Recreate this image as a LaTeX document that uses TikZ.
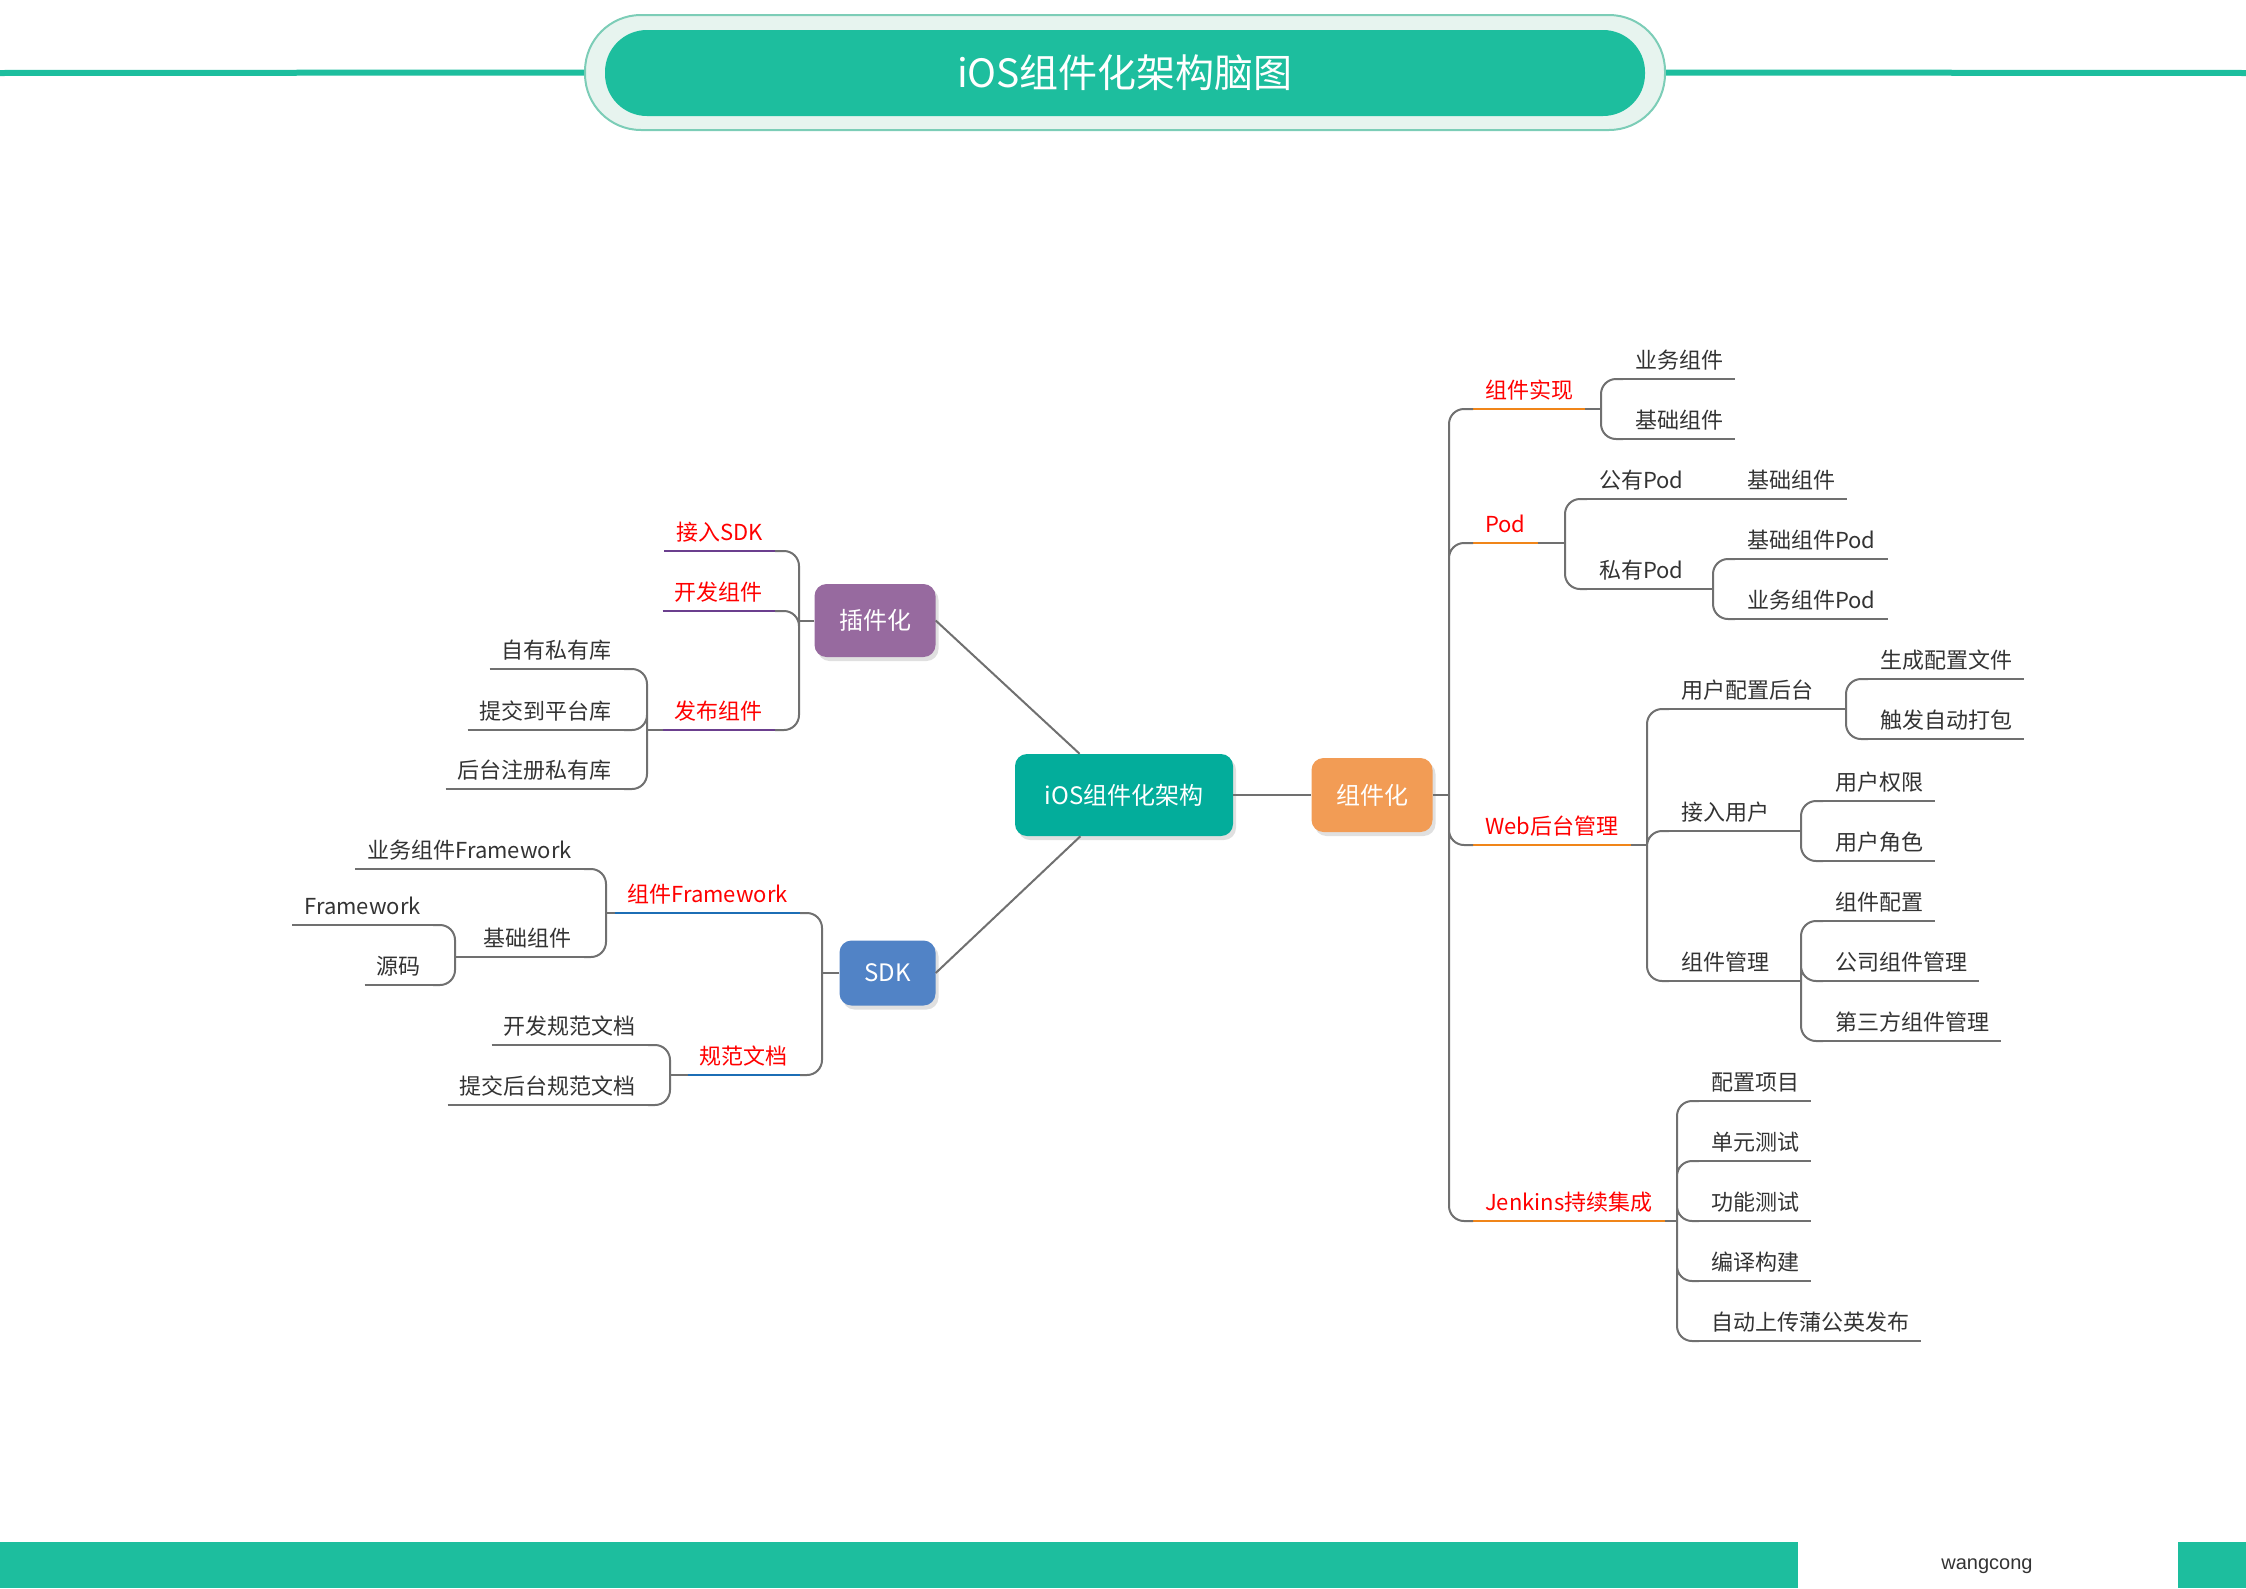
\documentclass[tikz,border=0pt]{standalone}
\usepackage{fontspec}
\setmainfont{Noto Sans CJK SC}
\newfontfamily\signfont{Liberation Sans}
\usepackage{tikz}
\usetikzlibrary{shadows}
\definecolor{mint}{HTML}{1DBE9E}
\definecolor{mintpale}{HTML}{E7F4EF}
\definecolor{mintline}{HTML}{7CCDB7}
\definecolor{rootteal}{HTML}{03AD9B}
\definecolor{plugpurple}{HTML}{976A9F}
\definecolor{sdkblue}{HTML}{5183C6}
\definecolor{comporange}{HTML}{F29C55}
\definecolor{ulpurple}{HTML}{6B3F8E}
\definecolor{ulblue}{HTML}{1C6EB5}
\definecolor{ulorange}{HTML}{F08519}
\definecolor{wiregray}{HTML}{707070}
\definecolor{ink}{HTML}{333333}
\newcommand{\leaffont}{\fontsize{22}{26}\selectfont}
\newcommand{\topicfont}{\fontsize{24}{28}\selectfont}

\begin{document}
\begin{tikzpicture}[x=1pt, y=-1pt,
    wire/.style={draw=wiregray, line width=2pt, rounded corners=15pt},
    lbl/.style={font=\leaffont, inner xsep=12pt, inner ysep=6pt, text height=17pt, text depth=4pt},
    leaf/.style={lbl, text=ink, append after command={(\tikzlastnode.south west) edge[draw=wiregray, line width=2pt] (\tikzlastnode.south east)}},
    branch/.style={lbl, text=red, append after command={(\tikzlastnode.south west) edge[draw=#1, line width=2.5pt] (\tikzlastnode.south east)}},
    topic/.style={fill=#1, rounded corners=12pt, text=white, font=\topicfont, drop shadow={shadow xshift=3pt, shadow yshift=-4pt, fill=black, opacity=0.12}}]
          \useasboundingbox (0,0) rectangle (2246,1588);

          % title bar
          \coordinate (L0) at (0,73);
          \coordinate (R0) at (2246,73);
          \node[fill=mintpale, draw=mintline, line width=2pt, rounded corners=56pt, minimum width=1080pt, minimum height=115pt] (TB) at (1125,72.5) {};
          \node[fill=mint, rounded corners=42pt, minimum width=1040pt, minimum height=86pt, text=white, font=\fontsize{39}{44}\selectfont] (T) at (1125,73) {iOS组件化架构脑图};
          \draw[mint, line width=6pt] (L0) -- (TB.west);
          \draw[mint, line width=6pt] (TB.east) -- (R0);

          % footer
          \fill[mint] (0,1542) rectangle (1798,1588);
          \fill[mint] (2178,1542) rectangle (2246,1588);
          \node[text=ink, font=\signfont\fontsize{20}{24}\selectfont] (W) at (1987,1566) {wangcong};

          % main topics
          \node[topic=rootteal, minimum width=218pt, minimum height=82pt] (R) at (1124,795) {iOS组件化架构};
          \node[topic=plugpurple, minimum width=121pt, minimum height=73pt] (CJ) at (875,620.5) {插件化};
          \node[topic=sdkblue, minimum width=96pt, minimum height=65pt] (SDK) at (887.5,973) {SDK};
          \node[topic=comporange, minimum width=121pt, minimum height=74pt] (ZJ) at (1372,795) {组件化};
          \draw[wire] (CJ.east) -- (R);
          \draw[wire] (SDK.east) -- (R);
          \draw[wire] (R) -- (ZJ);

          % 插件化
          \coordinate (jCJ) at (799,620.5);
          \node[branch=ulpurple, anchor=south east] (JR) at (775,551) {接入SDK};
          \node[branch=ulpurple, anchor=south east] (KF) at (775,611) {开发组件};
          \node[branch=ulpurple, anchor=south east] (FB) at (775,730) {发布组件};
          \draw[wire] (CJ.west) -- (jCJ);
          \draw[wire] (jCJ) |- (JR.south east) (jCJ) |- (KF.south east) (jCJ) |- (FB.south east);
          \coordinate (jFB) at (647,730);
          \node[leaf, anchor=south east] (FB1) at (624,669) {自有私有库};
          \node[leaf, anchor=south east] (FB2) at (624,730) {提交到平台库};
          \node[leaf, anchor=south east] (FB3) at (624,789) {后台注册私有库};
          \draw[wire] (FB.south west) -- (jFB);
          \draw[wire] (jFB) |- (FB1.south east) (jFB) |- (FB2.south east) (jFB) |- (FB3.south east);

          % SDK
          \coordinate (jSDK) at (822,973);
          \node[branch=ulblue, anchor=south east] (ZF) at (800,913) {组件Framework};
          \node[branch=ulblue, anchor=south east] (GF) at (800,1075) {规范文档};
          \draw[wire] (SDK.west) -- (jSDK);
          \draw[wire] (jSDK) |- (ZF.south east) (jSDK) |- (GF.south east);
          \coordinate (jZF) at (606,913);
          \node[leaf, anchor=south east] (ZF1) at (584,869) {业务组件Framework};
          \node[leaf, anchor=south east] (ZF2) at (584,957) {基础组件};
          \draw[wire] (ZF.south west) -- (jZF);
          \draw[wire] (jZF) |- (ZF1.south east) (jZF) |- (ZF2.south east);
          \coordinate (jZF2) at (455,957);
          \node[leaf, anchor=south east] (ZF21) at (433,925) {Framework};
          \node[leaf, anchor=south east] (ZF22) at (433,985) {源码};
          \draw[wire] (ZF2.south west) -- (jZF2);
          \draw[wire] (jZF2) |- (ZF21.south east) (jZF2) |- (ZF22.south east);
          \coordinate (jGF) at (670,1075);
          \node[leaf, anchor=south east] (GF1) at (648,1045) {开发规范文档};
          \node[leaf, anchor=south east] (GF2) at (648,1105) {提交后台规范文档};
          \draw[wire] (GF.south west) -- (jGF);
          \draw[wire] (jGF) |- (GF1.south east) (jGF) |- (GF2.south east);

          % 组件化
          \coordinate (jZJ) at (1449,795);
          \node[branch=ulorange, anchor=south west] (SX) at (1473,409) {组件实现};
          \node[branch=ulorange, anchor=south west] (Pod) at (1473,543) {Pod};
          \node[branch=ulorange, anchor=south west] (Web) at (1473,845) {Web后台管理};
          \node[branch=ulorange, anchor=south west] (JK) at (1473,1221) {Jenkins持续集成};
          \draw[wire] (ZJ.east) -- (jZJ);
          \draw[wire] (jZJ) |- (SX.south west) (jZJ) |- (Pod.south west) (jZJ) |- (Web.south west) (jZJ) |- (JK.south west);

          \coordinate (jSX) at (1601,409);
          \node[leaf, anchor=south west] (SX1) at (1623,379) {业务组件};
          \node[leaf, anchor=south west] (SX2) at (1623,439) {基础组件};
          \draw[wire] (SX.south east) -- (jSX);
          \draw[wire] (jSX) |- (SX1.south west) (jSX) |- (SX2.south west);

          \coordinate (jPod) at (1565,543);
          \node[leaf, anchor=south west] (Pod1) at (1587,499) {公有Pod};
          \node[leaf, anchor=south west] (Pod2) at (1587,589) {私有Pod};
          \draw[wire] (Pod.south east) -- (jPod);
          \draw[wire] (jPod) |- (Pod1.south west) (jPod) |- (Pod2.south west);
          \coordinate (jPod1) at (1713,499);
          \node[leaf, anchor=south west] (Pod11) at (1735,499) {基础组件};
          \draw[wire] (Pod1.south east) -- (jPod1) -- (Pod11.south west);
          \coordinate (jPod2) at (1713,589);
          \node[leaf, anchor=south west] (Pod21) at (1735,559) {基础组件Pod};
          \node[leaf, anchor=south west] (Pod22) at (1735,619) {业务组件Pod};
          \draw[wire] (Pod2.south east) -- (jPod2);
          \draw[wire] (jPod2) |- (Pod21.south west) (jPod2) |- (Pod22.south west);

          \coordinate (jWeb) at (1647,845);
          \node[leaf, anchor=south west] (Web1) at (1669,709) {用户配置后台};
          \node[leaf, anchor=south west] (Web2) at (1669,831) {接入用户};
          \node[leaf, anchor=south west] (Web3) at (1669,981) {组件管理};
          \draw[wire] (Web.south east) -- (jWeb);
          \draw[wire] (jWeb) |- (Web1.south west) (jWeb) |- (Web2.south west) (jWeb) |- (Web3.south west);
          \coordinate (jWeb1) at (1846,709);
          \node[leaf, anchor=south west] (Web11) at (1868,679) {生成配置文件};
          \node[leaf, anchor=south west] (Web12) at (1868,739) {触发自动打包};
          \draw[wire] (Web1.south east) -- (jWeb1);
          \draw[wire] (jWeb1) |- (Web11.south west) (jWeb1) |- (Web12.south west);
          \coordinate (jWeb2) at (1801,831);
          \node[leaf, anchor=south west] (Web21) at (1823,801) {用户权限};
          \node[leaf, anchor=south west] (Web22) at (1823,861) {用户角色};
          \draw[wire] (Web2.south east) -- (jWeb2);
          \draw[wire] (jWeb2) |- (Web21.south west) (jWeb2) |- (Web22.south west);
          \coordinate (jWeb3) at (1801,981);
          \node[leaf, anchor=south west] (Web31) at (1823,921) {组件配置};
          \node[leaf, anchor=south west] (Web32) at (1823,981) {公司组件管理};
          \node[leaf, anchor=south west] (Web33) at (1823,1041) {第三方组件管理};
          \draw[wire] (Web3.south east) -- (jWeb3);
          \draw[wire] (jWeb3) |- (Web31.south west) (jWeb3) |- (Web32.south west) (jWeb3) |- (Web33.south west);

          \coordinate (jJK) at (1677,1221);
          \node[leaf, anchor=south west] (JK1) at (1699,1101) {配置项目};
          \node[leaf, anchor=south west] (JK2) at (1699,1161) {单元测试};
          \node[leaf, anchor=south west] (JK3) at (1699,1221) {功能测试};
          \node[leaf, anchor=south west] (JK4) at (1699,1281) {编译构建};
          \node[leaf, anchor=south west] (JK5) at (1699,1341) {自动上传蒲公英发布};
          \draw[wire] (JK.south east) -- (jJK);
          \draw[wire] (jJK) |- (JK1.south west) (jJK) |- (JK2.south west) (jJK) |- (JK3.south west) (jJK) |- (JK4.south west) (jJK) |- (JK5.south west);
        \end{tikzpicture}
\end{document}
